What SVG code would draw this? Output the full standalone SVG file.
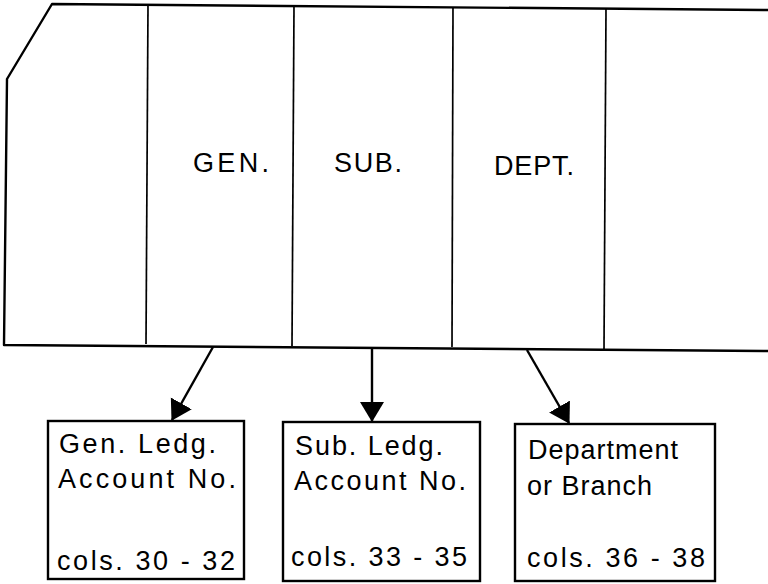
<svg xmlns="http://www.w3.org/2000/svg" width="768" height="584" viewBox="0 0 768 584">
<style>
.ln{fill:none;stroke:#000;stroke-width:2.4;stroke-linejoin:round}
.dv{fill:none;stroke:#000;stroke-width:1.7}
.bx{fill:#fff;stroke:#000;stroke-width:2.4}
.lb{font-family:"Liberation Sans",Arial,sans-serif;font-size:27px;fill:#000}
.tx{font-family:"Liberation Sans",Arial,sans-serif;font-size:27px;fill:#000}
.ar{fill:none;stroke:#000;stroke-width:2.4}
</style>
<defs>
<marker id="ah" markerUnits="userSpaceOnUse" markerWidth="24" markerHeight="26" refX="19" refY="12" orient="auto">
<path d="M0,0 L20,12 L0,24 z" fill="#000"/>
</marker>
</defs>
<g id="card">
<path class="ln" d="M768,10 L52,4 L7,79 L4,345 L768,351"/>
<line class="dv" x1="148" y1="5" x2="146" y2="344"/>
<line class="dv" x1="294" y1="6" x2="292" y2="346"/>
<line class="dv" x1="453" y1="7" x2="452" y2="347"/>
<line class="dv" x1="606" y1="9" x2="604" y2="349"/>
<text class="lb" x="193" y="172" textLength="76" lengthAdjust="spacing">GEN.</text>
<text class="lb" x="334" y="172" textLength="68" lengthAdjust="spacing">SUB.</text>
<text class="lb" x="494" y="175" textLength="80" lengthAdjust="spacing">DEPT.</text>
</g>
<g id="connectors">
<line class="ar" x1="213" y1="347" x2="172" y2="420" marker-end="url(#ah)"/>
<line class="ar" x1="372" y1="348" x2="372" y2="421" marker-end="url(#ah)"/>
<line class="ar" x1="527" y1="350" x2="569" y2="423" marker-end="url(#ah)"/>
</g>
<g id="box-gen">
<rect class="bx" x="48" y="421" width="196" height="158"/>
<text class="tx" x="59" y="453" textLength="157" lengthAdjust="spacing">Gen. Ledg.</text>
<text class="tx" x="58" y="488" textLength="178" lengthAdjust="spacing">Account No.</text>
<text class="tx" x="57" y="570" textLength="178" lengthAdjust="spacing">cols. 30 - 32</text>
</g>
<g id="box-sub">
<rect class="bx" x="283" y="422" width="197" height="159"/>
<text class="tx" x="295" y="455" textLength="148" lengthAdjust="spacing">Sub. Ledg.</text>
<text class="tx" x="294" y="490" textLength="172" lengthAdjust="spacing">Account No.</text>
<text class="tx" x="291" y="566" textLength="176" lengthAdjust="spacing">cols. 33 - 35</text>
</g>
<g id="box-dept">
<rect class="bx" x="515" y="424" width="200" height="157"/>
<text class="tx" x="528" y="459" textLength="150" lengthAdjust="spacing">Department</text>
<text class="tx" x="527" y="495" textLength="125" lengthAdjust="spacing">or Branch</text>
<text class="tx" x="527" y="567" textLength="178" lengthAdjust="spacing">cols. 36 - 38</text>
</g>
</svg>
